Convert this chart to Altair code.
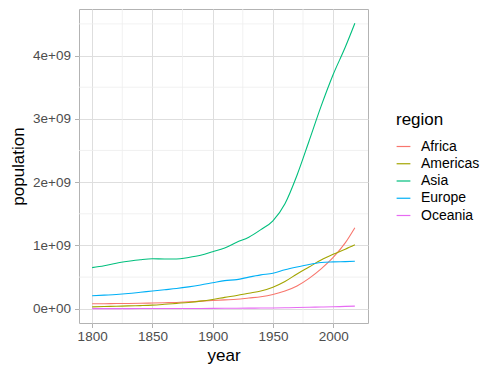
import altair as alt
import pandas as pd

years = [1800, 1810, 1820, 1830, 1840, 1850, 1860, 1870, 1880, 1890, 1900, 1910,
         1920, 1930, 1940, 1950, 1960, 1970, 1980, 1990, 2000, 2010, 2018]

africa = [0.079, 0.080, 0.082, 0.084, 0.087, 0.090, 0.095, 0.100, 0.110, 0.120, 0.130, 0.140,
          0.150, 0.170, 0.190, 0.225, 0.280, 0.360, 0.480, 0.630, 0.810, 1.040, 1.280]
americas = [0.030, 0.035, 0.040, 0.045, 0.050, 0.057, 0.070, 0.085, 0.100, 0.120, 0.147, 0.180,
            0.210, 0.245, 0.280, 0.340, 0.430, 0.550, 0.660, 0.770, 0.860, 0.940, 1.010]
asia = [0.650, 0.680, 0.720, 0.750, 0.775, 0.790, 0.785, 0.785, 0.810, 0.845, 0.900, 0.960,
        1.050, 1.130, 1.250, 1.390, 1.660, 2.110, 2.650, 3.200, 3.700, 4.130, 4.510]
europe = [0.205, 0.215, 0.225, 0.240, 0.260, 0.280, 0.300, 0.320, 0.345, 0.375, 0.410, 0.445,
          0.460, 0.500, 0.535, 0.560, 0.615, 0.660, 0.700, 0.730, 0.740, 0.745, 0.750]
oceania = [0.002, 0.002, 0.002, 0.002, 0.003, 0.003, 0.003, 0.004, 0.004, 0.005, 0.006, 0.007,
           0.008, 0.010, 0.011, 0.013, 0.016, 0.019, 0.023, 0.027, 0.031, 0.037, 0.041]

regions = ["Africa", "Americas", "Asia", "Europe", "Oceania"]
colors = ["#F8766D", "#A3A500", "#00BF7D", "#00B0F6", "#E76BF3"]
series = [africa, americas, asia, europe, oceania]

y_ticks = [0, 1e9, 2e9, 3e9, 4e9]
y_minor = [0.5e9, 1.5e9, 2.5e9, 3.5e9, 4.5e9]
x_ticks = [1800, 1850, 1900, 1950, 2000]
x_minor = [1825, 1875, 1925, 1975]

rows = []
for reg, vals in zip(regions, series):
    for yr, v in zip(years, vals):
        rows.append({"year": yr, "population": v * 1e9, "region": reg})
df = pd.DataFrame(rows)

x_dom = [1789.1, 2028.9]
y_dom = [-0.225e9, 4.735e9]
xs = alt.Scale(domain=x_dom, nice=False, zero=False)
ys = alt.Scale(domain=y_dom, nice=False, zero=False)

FONT = "Liberation Sans"

x_axis = alt.Axis(values=x_ticks, format="d", grid=True)
y_axis = alt.Axis(values=y_ticks, grid=True,
                  labelExpr="datum.value == 0 ? '0e+00' : format(datum.value/1e9, 'd') + 'e+09'")

xminor = alt.Chart(pd.DataFrame({"year": x_minor})).mark_rule(
    color="#EDEDED", strokeWidth=0.8
).encode(x=alt.X("year:Q", scale=xs, title="year", axis=x_axis))
yminor = alt.Chart(pd.DataFrame({"population": y_minor})).mark_rule(
    color="#EDEDED", strokeWidth=0.8
).encode(y=alt.Y("population:Q", scale=ys, title="population", axis=y_axis))

lines = alt.Chart(df).mark_line(strokeWidth=1.1, interpolate="monotone").encode(
    x=alt.X("year:Q", scale=xs, title="year", axis=x_axis),
    y=alt.Y("population:Q", scale=ys, title="population", axis=y_axis),
    color=alt.Color("region:N", scale=alt.Scale(domain=regions, range=colors),
                    legend=alt.Legend(title="region", orient="none", legendX=317, legendY=103,
                                      symbolType="stroke", symbolSize=190, symbolStrokeWidth=1.2,
                                      labelFontSize=14, titleFontSize=17, labelOffset=10,
                                      rowPadding=2.25, titlePadding=10, padding=0,
                                      labelFont=FONT, titleFont=FONT, titleFontWeight="normal",
                                      labelColor="#000000", titleColor="#000000")),
)

chart = alt.layer(xminor, yminor, lines).properties(
    width=289, height=314,
    autosize=alt.AutoSizeParams(type="none"),
    padding={"left": 71, "top": 1, "right": 124, "bottom": 44},
).configure_view(
    stroke="#B3B3B3", strokeWidth=1
).configure_axis(
    domain=False, gridColor="#DEDEDE", gridWidth=1,
    tickColor="#B3B3B3", tickSize=4.5, tickWidth=1,
    labelFont=FONT, labelFontSize=13.5, labelColor="#4D4D4D",
    titleFont=FONT, titleFontSize=17, titleFontWeight="normal", titleColor="#000000",
).configure_axisX(
    labelPadding=2, titlePadding=4
).configure_axisY(
    labelPadding=4, titlePadding=5
)

chart.save("out.html", embed_options={"renderer": "svg", "actions": False})
